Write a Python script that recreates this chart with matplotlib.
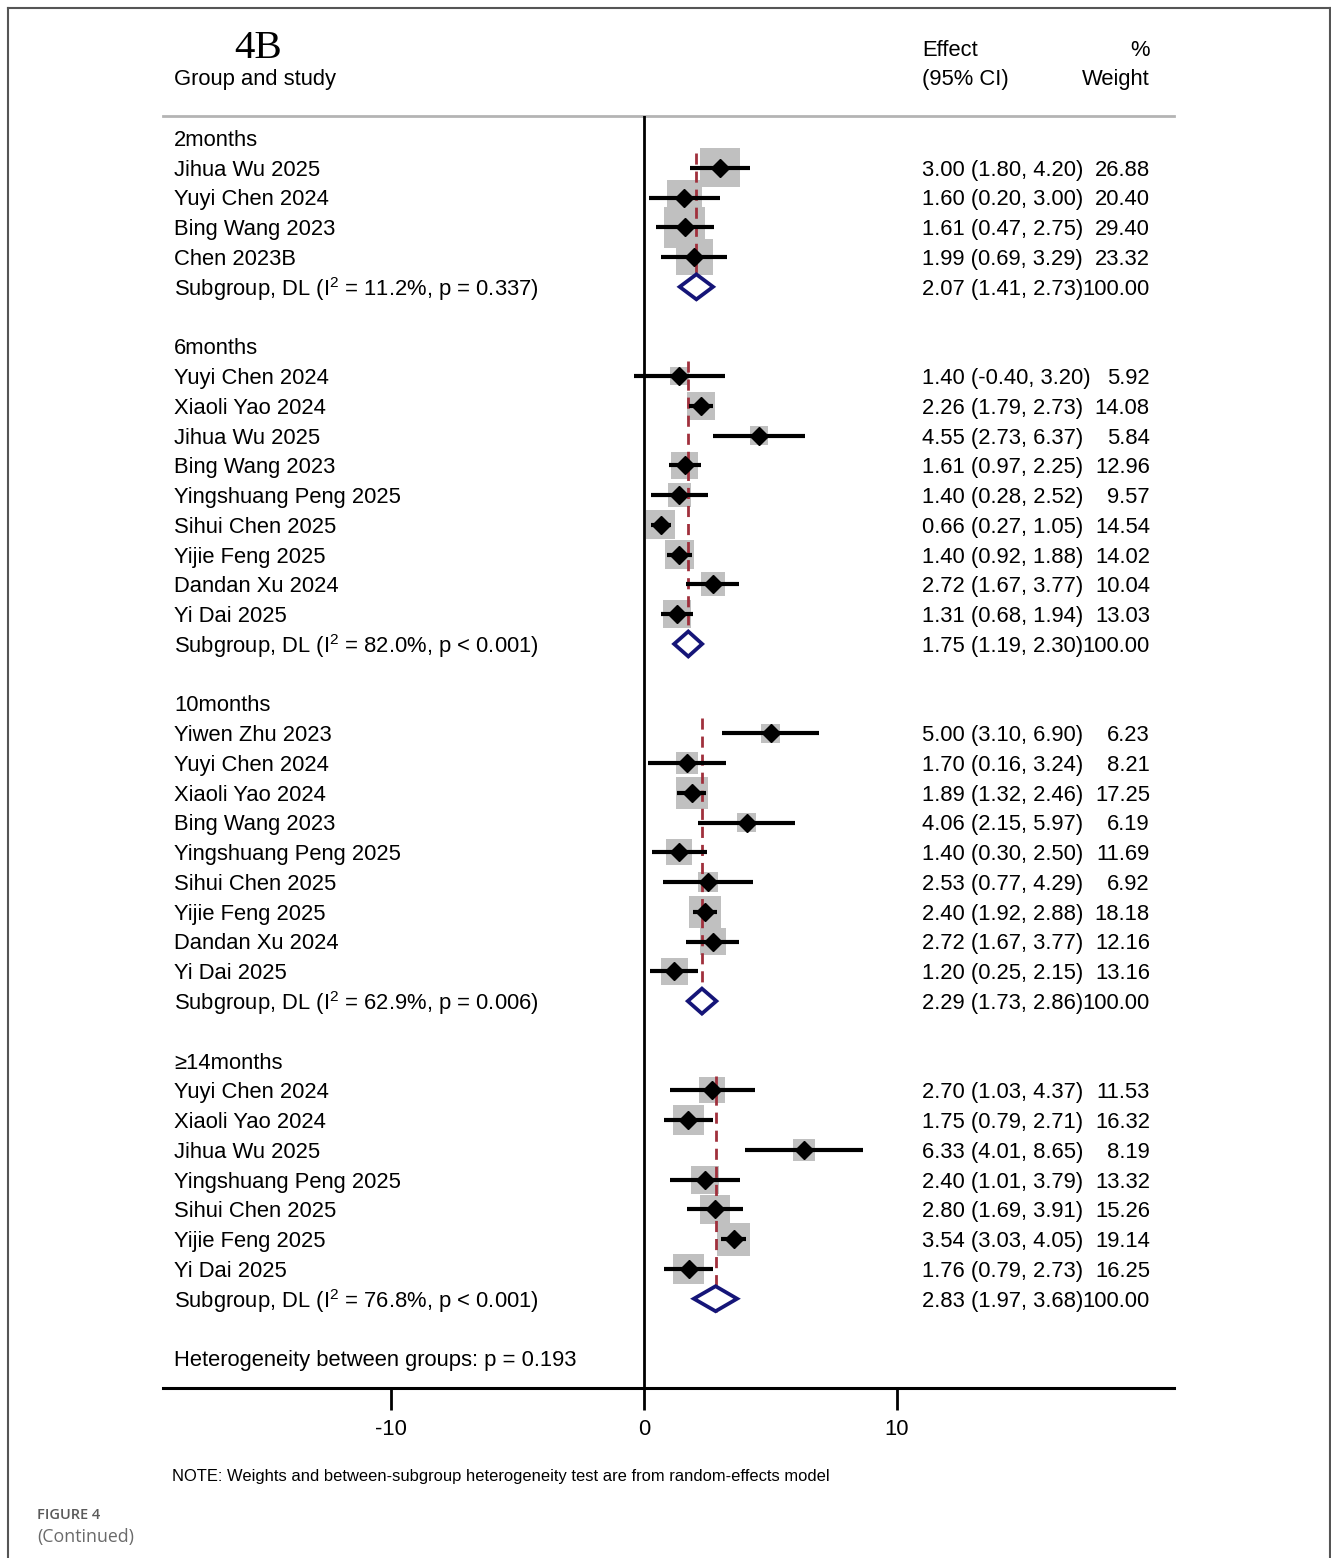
import numpy as np
import matplotlib
matplotlib.use("Agg")
import matplotlib.pyplot as plt
from matplotlib.patches import Rectangle, Polygon
from matplotlib.lines import Line2D
from matplotlib.transforms import blended_transform_factory

plt.rcParams['font.family'] = ['Liberation Sans', 'DejaVu Sans']
plt.rcParams['mathtext.fontset'] = 'custom'
plt.rcParams['mathtext.rm'] = 'Liberation Sans'
plt.rcParams['mathtext.it'] = 'Liberation Sans'
plt.rcParams['axes.unicode_minus'] = False

# ---- data ----
groups = ["2months", "6months", "10months", "≥14months"]

studies_2 = ["Jihua Wu 2025", "Yuyi Chen 2024", "Bing Wang 2023", "Chen 2023B"]
est_2 = [3.00, 1.60, 1.61, 1.99]
lo_2 = [1.80, 0.20, 0.47, 0.69]
hi_2 = [4.20, 3.00, 2.75, 3.29]
wt_2 = [26.88, 20.40, 29.40, 23.32]

studies_6 = ["Yuyi Chen 2024", "Xiaoli Yao 2024", "Jihua Wu 2025", "Bing Wang 2023",
             "Yingshuang Peng 2025", "Sihui Chen 2025", "Yijie Feng 2025",
             "Dandan Xu 2024", "Yi Dai 2025"]
est_6 = [1.40, 2.26, 4.55, 1.61, 1.40, 0.66, 1.40, 2.72, 1.31]
lo_6 = [-0.40, 1.79, 2.73, 0.97, 0.28, 0.27, 0.92, 1.67, 0.68]
hi_6 = [3.20, 2.73, 6.37, 2.25, 2.52, 1.05, 1.88, 3.77, 1.94]
wt_6 = [5.92, 14.08, 5.84, 12.96, 9.57, 14.54, 14.02, 10.04, 13.03]

studies_10 = ["Yiwen Zhu 2023", "Yuyi Chen 2024", "Xiaoli Yao 2024", "Bing Wang 2023",
              "Yingshuang Peng 2025", "Sihui Chen 2025", "Yijie Feng 2025",
              "Dandan Xu 2024", "Yi Dai 2025"]
est_10 = [5.00, 1.70, 1.89, 4.06, 1.40, 2.53, 2.40, 2.72, 1.20]
lo_10 = [3.10, 0.16, 1.32, 2.15, 0.30, 0.77, 1.92, 1.67, 0.25]
hi_10 = [6.90, 3.24, 2.46, 5.97, 2.50, 4.29, 2.88, 3.77, 2.15]
wt_10 = [6.23, 8.21, 17.25, 6.19, 11.69, 6.92, 18.18, 12.16, 13.16]

studies_14 = ["Yuyi Chen 2024", "Xiaoli Yao 2024", "Jihua Wu 2025",
              "Yingshuang Peng 2025", "Sihui Chen 2025", "Yijie Feng 2025", "Yi Dai 2025"]
est_14 = [2.70, 1.75, 6.33, 2.40, 2.80, 3.54, 1.76]
lo_14 = [1.03, 0.79, 4.01, 1.01, 1.69, 3.03, 0.79]
hi_14 = [4.37, 2.71, 8.65, 3.79, 3.91, 4.05, 2.73]
wt_14 = [11.53, 16.32, 8.19, 13.32, 15.26, 19.14, 16.25]

sub_est = [2.07, 1.75, 2.29, 2.83]
sub_lo = [1.41, 1.19, 1.73, 1.97]
sub_hi = [2.73, 2.30, 2.86, 3.68]
sub_i2 = ["11.2%", "82.0%", "62.9%", "76.8%"]
sub_p = ["p = 0.337", "p < 0.001", "p = 0.006", "p < 0.001"]
het_between = "p = 0.193"

xticks = [-10, 0, 10]

all_studies = [studies_2, studies_6, studies_10, studies_14]
all_est = [est_2, est_6, est_10, est_14]
all_lo = [lo_2, lo_6, lo_10, lo_14]
all_hi = [hi_2, hi_6, hi_10, hi_14]
all_wt = [wt_2, wt_6, wt_10, wt_14]

# ---- figure ----
W, H = 1331, 1558
fig = plt.figure(figsize=(W / 100, H / 100), dpi=100)

def fx(px):
    return px / W

def fy(py):
    return 1 - py / H

ax_left, ax_right, ax_top, ax_bot = 163, 1174, 116, 1388
ax = fig.add_axes([fx(ax_left), fy(ax_bot), (ax_right - ax_left) / W, (ax_bot - ax_top) / H])
x0_px, px_per_unit = 644, 25.3
ax.set_xlim((ax_left - x0_px) / px_per_unit, (ax_right - x0_px) / px_per_unit)
ax.set_ylim(42, -0.74)
row_px = 29.76

for s in ["left", "right"]:
    ax.spines[s].set_visible(False)
ax.spines["top"].set_color("#b4b4b4")
ax.spines["top"].set_linewidth(2.0)
ax.spines["bottom"].set_linewidth(2.2)
ax.set_yticks([])
ax.set_xticks(xticks)
ax.tick_params(axis="x", direction="out", length=16, width=2.0, labelsize=15.8, pad=6)
ax.axvline(0, color="black", lw=2.0, zorder=5)

tr = blended_transform_factory(fig.transFigure, ax.transData)
fs = 15.8
dy = 0.08  # small nudge so text caps sit on the row centre
side_k = 7.6  # px per sqrt(weight)
navy = "#151578"
maroon = "#a0303c"

row = 0
for g in range(len(groups)):
    head_row = row
    ax.text(fx(174), row + dy, groups[g], transform=tr, fontsize=fs, va="center")
    row += 1
    for name, e, l, h, w in zip(all_studies[g], all_est[g], all_lo[g], all_hi[g], all_wt[g]):
        side = side_k * np.sqrt(w)
        ax.add_patch(Rectangle((e - side / px_per_unit / 2, row - side / row_px / 2),
                               side / px_per_unit, side / row_px,
                               facecolor="#c0c0c0", edgecolor="none", zorder=2))
        ax.plot([l, h], [row, row], color="black", lw=3.0, solid_capstyle="butt", zorder=4)
        ax.plot([e], [row], marker="D", color="black", markersize=9, zorder=4)
        ax.text(fx(174), row + dy, name, transform=tr, fontsize=fs, va="center")
        ax.text(fx(922), row + dy, f"{e:.2f} ({l:.2f}, {h:.2f})", transform=tr, fontsize=fs, va="center")
        ax.text(fx(1150), row + dy, f"{w:.2f}", transform=tr, fontsize=fs, va="center", ha="right")
        row += 1
    # subgroup line
    ax.text(fx(174), row + dy, f"Subgroup, DL (I$^{{2}}$ = {sub_i2[g]}, {sub_p[g]})",
            transform=tr, fontsize=fs, va="center")
    ax.text(fx(922), row + dy, f"{sub_est[g]:.2f} ({sub_lo[g]:.2f}, {sub_hi[g]:.2f})",
            transform=tr, fontsize=fs, va="center")
    ax.text(fx(1150), row + dy, "100.00", transform=tr, fontsize=fs, va="center", ha="right")
    ax.plot([sub_est[g], sub_est[g]], [head_row + 0.5, row + 0.45], color=maroon, lw=2.0,
            linestyle=(0, (4, 2.5)), zorder=3)
    dh = 0.42
    ax.add_patch(Polygon([[sub_lo[g], row], [sub_est[g], row - dh],
                          [sub_hi[g], row], [sub_est[g], row + dh]], closed=True,
                         facecolor="white", edgecolor=navy, lw=2.7, zorder=6))
    row += 2

ax.text(fx(174), row + dy, f"Heterogeneity between groups: {het_between}", transform=tr,
        fontsize=fs, va="center")

# ---- header ----
fig.text(fx(258), fy(48), "4B", family="Liberation Serif", fontsize=29.5, ha="center", va="center")
fig.text(fx(174), fy(80), "Group and study", fontsize=fs, va="center")
fig.text(fx(922), fy(50), "Effect", fontsize=fs, va="center")
fig.text(fx(922), fy(80), "(95% CI)", fontsize=fs, va="center")
fig.text(fx(1150), fy(50), "%", fontsize=fs, va="center", ha="right")
fig.text(fx(1150), fy(80), "Weight", fontsize=fs, va="center", ha="right")

fig.text(fx(172), fy(1476), "NOTE: Weights and between-subgroup heterogeneity test are from random-effects model",
         fontsize=11.9, va="center")

# ---- caption + frame ----
fig.text(fx(37), fy(1515), "FIGURE 4", family="Open Sans", fontweight="semibold",
         fontsize=10.5, color="#5a5a5a", va="center")
fig.text(fx(37), fy(1537), "(Continued)", family="Open Sans", fontsize=12.8,
         color="#6a6a6a", va="center")

frame_col = "#555555"
fig.add_artist(Line2D([fx(7.5), fx(7.5)], [0, fy(7.5)], color=frame_col, lw=1.5))
fig.add_artist(Line2D([fx(1329.5), fx(1329.5)], [0, fy(7.5)], color=frame_col, lw=1.5))
fig.add_artist(Line2D([fx(7.5), fx(1329.5)], [fy(7.5), fy(7.5)], color=frame_col, lw=1.5))

fig.savefig("out.png", dpi=100)
